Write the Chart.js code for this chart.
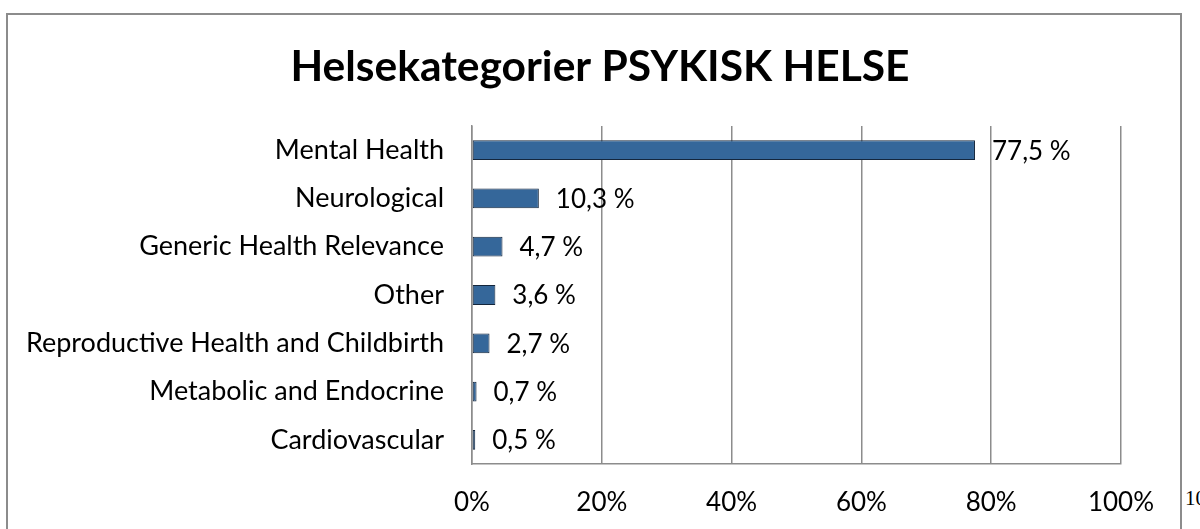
<!DOCTYPE html>
<html>
<head>
<meta charset="utf-8">
<script src="https://cdn.jsdelivr.net/npm/chart.js@4"></script>
<style>
  html, body { margin: 0; padding: 0; background: #fff; overflow: hidden; }
  #frame {
    position: absolute; left: 6px; top: 13px; width: 1176px; height: 600px;
    border: 2px solid #8c8c8c; border-bottom: none; box-sizing: border-box;
  }
  #pageNo {
    position: absolute; left: 1185px; top: 486px;
    font-family: "Liberation Serif", serif; font-size: 21px; color: #000;
  }
  canvas { position: absolute; left: 0; top: 0; }
</style>
</head>
<body>
<div id="frame"></div>
<span id="pageNo">10</span>
<canvas id="chart" width="1200" height="529"></canvas>
<script>
// Kategorier og verdier (prosent)
const categories = [
  'Mental Health',
  'Neurological',
  'Generic Health Relevance',
  'Other',
  'Reproductive Health and Childbirth',
  'Metabolic and Endocrine',
  'Cardiovascular'
];
const values = [77.5, 10.3, 4.7, 3.6, 2.7, 0.7, 0.5];
const xTicks = [0, 20, 40, 60, 80, 100];
const chartTitle = 'Helsekategorier PSYKISK HELSE';

const FONT = 'Lato';

// verdietiketter til høyre for stolpene, f.eks. "77,5 %"
const valueLabels = {
  id: 'valueLabels',
  afterDatasetsDraw(chart) {
    const ctx = chart.ctx;
    const meta = chart.getDatasetMeta(0);
    ctx.save();
    ctx.font = '26px ' + FONT;
    ctx.fillStyle = '#000';
    ctx.textAlign = 'left';
    ctx.textBaseline = 'middle';
    meta.data.forEach((bar, i) => {
      const txt = values[i].toFixed(1).replace('.', ',') + ' %';
      ctx.fillText(txt, bar.x + 17, bar.y + 1);
    });
    ctx.restore();
  }
};

new Chart(document.getElementById('chart'), {
  type: 'bar',
  data: {
    labels: categories,
    datasets: [{
      data: values,
      yAxisID: 'y',
      backgroundColor: '#35679a',
      borderColor: '#14263c',
      borderWidth: 1,
      borderSkipped: false,
      barPercentage: 0.41,
      categoryPercentage: 1
    }]
  },
  options: {
    indexAxis: 'y',
    responsive: false,
    animation: false,
    layout: { padding: 0 },
    plugins: {
      legend: { display: false },
      tooltip: { enabled: false },
      title: {
        display: true,
        text: chartTitle,
        color: '#000',
        font: { family: FONT, size: 42.5, weight: 'bold', lineHeight: 1.2 },
        padding: { top: 42, bottom: 33 }
      }
    },
    scales: {
      y: {
        position: 'left',
        grid: { display: false, drawTicks: false },
        border: { display: true, color: '#8c8c8c', width: 1.5 },
        ticks: {
          color: '#000',
          padding: 28,
          font: { family: FONT, size: 27 }
        },
        afterFit(scale) { scale.width = 472; }
      },
      yRight: {
        type: 'category',
        labels: categories,
        position: 'right',
        grid: { display: false, drawTicks: false },
        border: { display: false },
        ticks: { display: false },
        afterFit(scale) { scale.width = 79; }
      },
      x: {
        min: 0,
        max: 100,
        afterBuildTicks(scale) {
          scale.ticks = xTicks.map(v => ({ value: v }));
        },
        grid: { color: '#8c8c8c', lineWidth: 1.5, drawTicks: false },
        border: { display: true, color: '#8c8c8c', width: 1.5 },
        ticks: {
          color: '#000',
          padding: 23,
          font: { family: FONT, size: 26 },
          callback: v => v + '%'
        },
        afterFit(scale) { scale.height = 65; }
      }
    }
  },
  plugins: [valueLabels]
});
</script>
</body>
</html>
